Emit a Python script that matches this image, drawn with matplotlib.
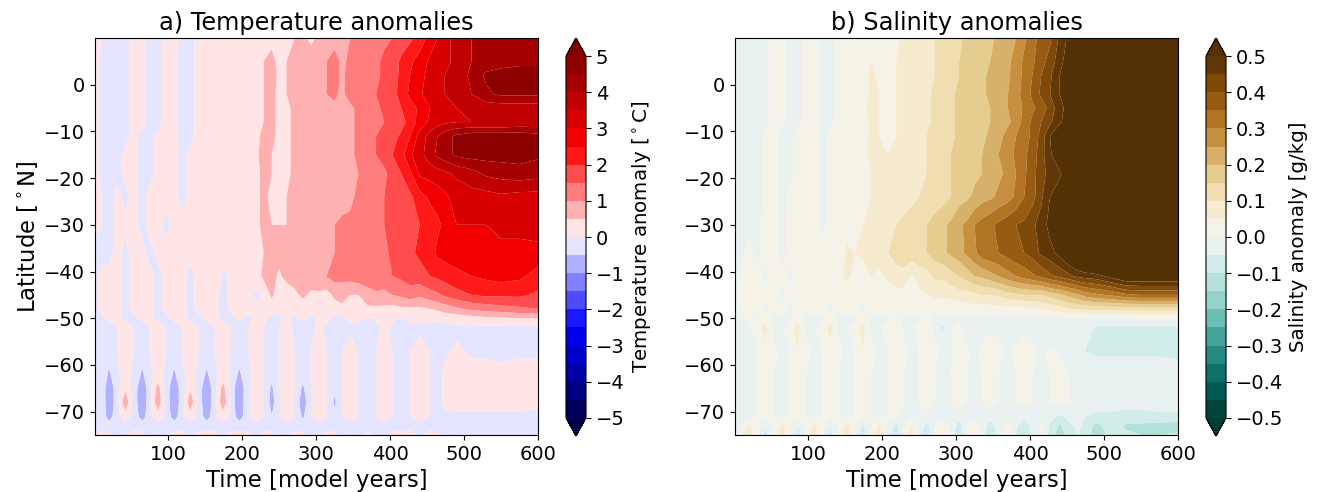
import numpy as np
import matplotlib
matplotlib.use('Agg')
import matplotlib.pyplot as plt

# model years of each column
years = [1,10,20,31,42,53,65,75,86,97,
         108,119,130,141,152,163,174,185,196,208,
         219,229,240,250,260,271,282,293,304,314,
         325,335,346,357,370,381,392,403,415,427,
         440,454,464,474,490,510,530,550,575,600]

# latitude of each row
lats = [10,5,2,-2,-5,-8,-11,-15,-19,-24,-30,-36,-41,-45,-48,-50,-52,-57,-62,-65,-68,-71,-73,-75]

# temperature anomaly, in tenths of a degree
temp_tenths = [
 [1,0,-2,-2,-1,1,1,-1,-1,1, 1,-1,-1,1,2,2,2,2,3,3, 3,4,4,3,4,5,6,4,6,7, 8,9,10,11,12,13,14,15,17,19, 22,27,30,33,37,40,42,43,44,44],
 [1,-1,-2,-2,-1,1,1,-1,-1,1, 1,-1,-1,1,2,2,2,2,3,3, 4,5,6,4,5,6,7,7,8,10, 12,9,11,12,13,14,16,17,21,24, 27,31,33,34,36,40,42,43,44,44],
 [1,-1,-2,-2,-1,1,1,-1,-1,1, 1,-1,-1,1,2,2,2,3,3,3, 4,5,7,4,5,6,7,7,8,10, 12,9,12,13,13,14,16,18,21,25, 28,32,34,35,37,41,46,47,47,47],
 [1,-1,-2,-2,-1,1,1,-1,-1,1, 1,-1,-1,1,2,2,2,3,3,3, 4,5,6,4,5,6,7,7,8,10, 11,9,12,13,14,15,16,18,22,26, 29,33,34,35,37,40,44,46,46,46],
 [1,-1,-2,-2,-1,1,1,-1,-1,1, 1,-1,-1,1,2,2,2,3,3,3, 4,5,6,4,4,6,7,7,8,8, 9,8,9,11,13,14,16,18,20,23, 26,30,33,35,35,36,37,37,37,37],
 [1,-1,-2,-2,-1,1,1,-1,-1,1, 1,-1,-1,1,2,2,2,3,3,3, 4,5,6,4,4,6,7,7,8,8, 9,8,9,11,13,14,15,16,18,22, 27,31,33,34,35,35,35,35,36,36],
 [1,-1,-2,-2,-1,1,-1,-1,1,1, 1,-1,-1,1,2,2,2,3,3,3, 4,6,6,4,4,6,7,7,8,9, 9,8,9,11,13,15,16,18,21,25, 32,37,40,43,46,48,48,48,48,47],
 [1,-1,-2,-1,1,1,-1,-1,1,1, 1,-1,1,1,2,2,2,2,3,3, 4,7,5,4,4,6,7,6,8,10, 9,8,9,11,12,15,17,20,23,29, 33,38,41,43,46,47,47,47,47,46],
 [1,-1,-2,-1,1,1,-1,-1,1,1, 1,-1,1,1,2,2,2,2,3,3, 4,6,5,4,4,6,7,7,8,9, 9,8,9,10,12,13,14,17,20,24, 31,32,33,34,36,38,41,42,43,42],
 [1,0,-1,1,-1,1,-1,1,1,1, 1,-1,1,1,2,2,2,2,3,3, 4,6,4,4,5,6,7,6,8,9, 9,8,9,11,12,13,15,16,18,19, 23,26,27,29,32,33,33,34,33,33],
 [1,0,-1,1,1,1,-1,1,1,-1, 1,1,1,1,1,2,2,2,3,3, 4,6,5,5,5,6,7,7,8,9, 10,11,11,12,13,14,15,16,17,18, 20,22,24,26,30,30,30,31,31,33],
 [-1,-1,-1,1,-1,1,1,-1,1,1, 1,1,1,1,1,1,1,1,2,2, 3,5,6,7,8,8,7,9,9,10, 10,11,12,12,13,13,14,16,18,19, 21,23,26,27,27,28,28,29,29,28],
 [-1,1,1,1,-1,1,1,1,-1,1, 1,1,-1,1,3,4,-1,1,3,5, 3,6,7,4,7,7,8,8,9,10, 12,11,12,13,13,14,15,15,16,17, 18,20,21,22,24,25,26,27,26,23],
 [-1,1,1,1,-1,1,1,1,-1,1, 1,1,-1,1,1,1,-1,1,1,1, -1,1,6,2,1,4,6,4,4,3, 6,8,5,5,8,9,8,10,11,13, 11,13,14,16,18,20,21,21,21,19],
 [-1,1,1,1,-1,1,1,1,-1,1, 1,1,-1,1,1,1,-1,1,1,1, 1,1,2,1,2,2,2,1,2,3, 3,3,3,4,4,4,4,3,4,4, 4,5,6,7,9,11,12,13,14,15],
 [-1,-1,1,1,-1,-1,1,1,-1,-1, 1,1,-1,-1,1,1,-1,-1,1,-1, 1,1,-1,-1,1,-1,1,-1,1,1, -1,-1,1,1,-1,1,1,1,-1,1, 1,1,1,2,2,3,4,4,5,5],
 [-1,-1,-2,0,2,0,-2,0,2,0, -2,0,2,0,-2,0,2,0,-2,0, 2,0,-2,0,2,-1,-2,-1,1,-1, -2,-1,-1,-1,-2,-1,1,-1,-2,-1, -1,-1,-2,-1,-1,-1,-1,-1,-1,-1],
 [-1,-1,-2,0,2,0,-2,0,2,0, -2,0,2,0,-2,0,2,0,-2,0, 2,0,-2,0,2,0,-2,0,2,0, -2,0,2,0,-2,0,2,0,-2,0, 2,0,-2,-1,1,-1,-1,-1,-1,-1],
 [-1,-1,-6,-1,2,-1,-6,-1,2,-1, -6,-1,2,-1,-6,-1,2,-1,-6,-1, 2,0,-3,0,2,0,-3,0,2,0, -2,0,2,0,-2,0,2,0,-2,0, 2,0,-2,1,2,2,2,1,2,2],
 [-1,-1,-9,-2,4,-2,-9,-2,7,-2, -9,-2,4,-2,-9,-2,7,-2,-9,-1, 2,0,-6,0,2,0,-6,0,2,0, -4,0,2,0,-2,0,2,0,-2,0, 2,0,-2,1,2,2,2,2,2,2],
 [-1,-1,-9,-2,9,-2,-9,-2,9,-2, -9,-2,9,-2,-9,-2,9,-2,-9,-1, 3,0,-7,-1,3,-1,-8,-1,3,0, -6,0,3,0,-2,0,3,0,-2,0, 3,0,-2,1,2,2,2,2,2,1],
 [-1,-1,-8,-1,2,-1,-8,-1,2,-1, -8,-1,2,-1,-8,-1,2,-1,-8,-1, 2,0,-5,0,2,0,-6,0,2,0, -3,0,1,0,-2,0,1,0,-2,0, 1,0,-2,-1,-1,-1,-1,-1,-1,-1],
 [-1,-1,-2,-1,-1,-1,-2,-1,-1,-1, -2,-1,-1,-1,-2,-1,-1,-1,-2,-1, -1,-1,-2,-1,-1,-1,-2,-1,-1,-1, -2,-1,-1,-1,-2,-1,-1,-1,-2,-1, -1,-1,-2,-1,-1,-1,-1,-1,-1,-1],
 [-1,1,1,-1,-1,1,1,-1,-1,-1, 1,1,-1,1,1,1,-1,1,1,1, -1,1,1,-1,-1,1,1,-1,-1,1, 1,-1,-1,-1,1,-1,-1,1,1,1, -1,1,1,-1,-1,-1,-1,-1,-1,-1],
]

# salinity anomaly, in hundredths of g/kg
salt_hundredths = [
 [-1,-2,-2,-2,-1,1,1,-1,-1,1, 1,-1,-1,1,2,2,3,3,3,4, 4,6,7,8,9,10,11,12,14,16, 17,18,19,21,23,25,29,33,37,39, 46,52,56,60,70,70,70,70,70,70],
 [-1,-2,-2,-2,-1,1,1,-1,-1,1, 1,-1,-1,1,2,2,3,5,4,4, 5,6,7,8,9,10,11,13,15,17, 18,19,20,22,24,27,31,34,38,42, 48,54,58,60,70,70,70,70,70,70],
 [-1,-2,-2,-2,-1,1,1,-1,-1,1, 1,-1,-1,1,2,2,3,6,4,4, 5,6,7,8,9,10,12,13,15,17, 18,19,21,22,24,28,31,35,40,44, 50,55,58,60,70,70,70,70,70,70],
 [-1,-2,-2,-2,-1,1,1,-1,-1,1, 1,-1,-1,1,2,2,3,6,5,4, 5,7,8,8,9,11,12,14,16,17, 18,19,21,23,25,28,32,36,41,45, 50,56,60,60,70,70,70,70,70,70],
 [-1,-2,-2,-2,-1,1,1,-1,-1,1, 1,-1,-1,1,2,2,3,7,5,4, 5,7,8,8,9,11,12,14,16,17, 19,19,20,22,25,27,31,34,37,42, 48,53,58,60,70,70,70,70,70,70],
 [-1,-2,-2,-2,-1,1,1,-1,-1,1, 1,-1,-1,1,2,2,3,6,5,4, 5,7,8,8,9,11,12,14,16,17, 18,19,20,22,24,27,32,36,40,44, 49,54,58,60,70,70,70,70,70,70],
 [-1,-2,-1,-2,1,1,-1,-1,1,1, 1,-1,1,1,2,2,3,6,5,4, 5,7,8,9,10,11,13,14,16,18, 19,19,21,23,27,30,33,36,42,50, 56,60,65,70,70,70,70,70,70,70],
 [-1,-2,-1,-2,1,1,-1,-1,1,1, 1,-1,1,1,2,2,4,6,6,5, 5,7,8,9,10,11,13,15,16,18, 19,20,22,25,28,31,34,37,43,49, 56,60,65,70,70,70,70,70,70,70],
 [-1,-2,-1,-2,1,1,-1,-1,1,1, 1,-1,1,1,2,2,4,5,6,5, 6,7,8,9,10,11,13,15,16,18, 19,20,22,24,26,30,34,38,43,47, 49,55,60,65,70,70,70,70,70,70],
 [-1,-2,-1,-2,1,1,-1,1,1,1, 1,-1,1,1,2,3,4,5,6,6, 7,8,9,10,11,12,13,15,18,19, 21,23,24,26,28,31,35,38,44,50, 54,60,65,70,70,70,70,70,70,70],
 [-1,-2,-1,-1,1,1,-1,1,1,1, 1,-1,1,2,3,3,5,6,7,8, 10,11,12,14,15,17,19,21,24,26, 30,32,34,36,38,40,41,44,47,52, 60,65,70,70,70,70,70,70,70,70],
 [-1,-1,1,-1,1,1,-1,1,1,1, 1,1,1,2,6,5,7,6,7,10, 12,12,13,14,15,17,19,21,23,26, 29,33,34,35,37,39,40,42,46,48, 52,58,62,66,70,70,70,70,70,70],
 [-1,1,1,1,-1,1,1,-1,1,3, 3,1,1,3,6,4,1,5,4,6, 8,9,4,7,8,11,11,13,15,17, 20,21,23,25,28,30,32,34,36,39, 41,44,46,47,48,52,56,56,56,56],
 [-1,1,1,1,1,1,-1,1,1,1, 1,1,1,1,3,2,1,2,2,2, 3,3,3,4,5,6,6,7,8,8, 9,10,10,11,13,14,15,15,15,17, 19,22,24,27,29,31,34,35,35,35],
 [-1,1,1,1,-1,1,1,-1,1,1, 1,1,-1,1,1,1,-1,1,1,1, 1,1,1,1,1,2,2,1,2,2, 3,2,3,3,3,3,4,4,5,6, 8,10,11,11,12,12,12,12,12,12],
 [-1,-1,1,-1,3,-1,-1,-1,3,-1, -1,-1,3,-1,-1,-1,3,-1,-1,-1, 2,-1,-1,-1,1,-1,-2,-1,-1,-2, -1,-2,-1,-1,-1,-2,-1,-1,-1,-1, -1,-1,-1,-1,-1,0,0,1,1,1],
 [-1,-1,-1,3,7,-1,-1,3,7,-1, -1,3,7,-1,-1,3,7,-1,-1,3, 5,-1,-1,2,5,-2,-6,-1,2,-5, -1,-2,-1,-1,-2,-5,-2,-1,-1,-6, -1,-2,-1,-2,-6,-6,-6,-6,-6,-6],
 [-1,-1,-1,0,4,1,-1,0,5,1, -1,0,3,1,-1,0,5,1,-1,0, 3,1,-1,0,3,1,-1,-1,3,1, -1,1,3,1,-1,1,3,1,-1,1, -1,-2,-3,-5,-6,-6,-6,-6,-6,-7],
 [-1,-1,-2,0,2,0,-2,0,2,0, -2,0,2,0,-2,0,2,0,-2,0, 2,0,-2,0,2,0,-2,0,2,0, -2,0,2,0,-2,0,2,0,-2,0, 2,0,-1,-1,-2,-2,-2,-2,-2,-2],
 [-1,-1,-2,0,2,0,-2,0,2,0, -2,0,2,0,-2,0,2,0,-2,0, 2,0,-2,0,2,0,-2,0,2,0, -2,0,2,0,-2,0,2,0,-2,0, 2,0,-1,-1,-3,-3,-3,-3,-3,-3],
 [-1,-1,-2,0,2,0,-2,0,2,0, -2,0,2,0,-2,0,2,0,-2,0, 2,0,-2,0,2,0,-2,0,2,0, -2,0,2,0,-2,0,2,0,-2,0, 2,0,-1,-1,-3,-3,-3,-3,-3,-3],
 [-1,-1,-1,0,1,0,-2,0,1,0, -2,0,1,0,-2,0,1,0,-2,0, 1,-2,-2,-2,-1,-2,-3,-2,-2,-2, -3,-2,-3,-2,-3,-2,-3,-2,-3,-3, -6,-3,-3,-5,-6,-6,-7,-7,-6,-6],
 [-1,0,6,1,-5,0,6,1,-5,0, 6,1,-5,0,6,1,-6,0,6,-1, -7,0,5,-2,-7,0,4,-1,-8,0, 3,-1,-8,-2,2,-4,-9,-3,1,-6, -11,-6,-4,-6,-12,-7,-11,-11,-12,-13],
 [-1,2,9,1,-7,1,9,1,-7,1, 9,1,-7,1,9,1,-8,1,9,-1, -9,1,8,-2,-9,1,6,-1,-10,0, 4,-2,-10,-3,3,-5,-11,-4,1,-7, -13,-7,-5,-7,-13,-8,-9,-10,-10,-9],
]

temp_levels = np.arange(-5, 5.01, 0.5)
salt_levels = np.arange(-0.5, 0.501, 0.05)
temp_ticks = np.arange(-5, 6, 1)
salt_ticks = np.round(np.arange(-0.5, 0.51, 0.1), 1)

temp = np.array(temp_tenths) / 10
salt = np.array(salt_hundredths) / 100

W, H = 1320, 492


def panel(left, data, levels, cmap, ticks, title, cb_label):
    ax = fig.add_axes([left / W, (H - 435) / H, 443 / W, 397 / H])
    cf = ax.contourf(years, lats, data, levels=levels, cmap=cmap, extend='both', antialiased=True)
    ax.set_xticks([100, 200, 300, 400, 500, 600])
    ax.set_yticks([0, -10, -20, -30, -40, -50, -60, -70])
    ax.set_xlim(1, 600)
    ax.set_ylim(-75, 10)
    ax.tick_params(labelsize=14)
    ax.set_xlabel('Time [model years]', fontsize=16.4, labelpad=4)
    ax.set_title(title, fontsize=17.3, pad=6)

    # the extend tips sit inside this box, so it runs the full height of the panel
    cax = fig.add_axes([(left + 471) / W, (H - 436) / H, 20 / W, 398 / H])
    cb = fig.colorbar(cf, cax=cax, ticks=ticks, extend='both')
    cb.ax.tick_params(labelsize=14)
    cb.set_label(cb_label, fontsize=14.3, labelpad=4)
    return ax


fig = plt.figure(figsize=(W / 100, H / 100), dpi=100)
ax1 = panel(95, temp, temp_levels, 'seismic', temp_ticks,
            'a) Temperature anomalies', r'Temperature anomaly [$^\circ$C]')
ax1.set_ylabel(r'Latitude [$^\circ$N]', fontsize=16.4, labelpad=3)
panel(735, salt, salt_levels, 'BrBG_r', salt_ticks,
      'b) Salinity anomalies', 'Salinity anomaly [g/kg]')

fig.savefig('out.png', dpi=100)
